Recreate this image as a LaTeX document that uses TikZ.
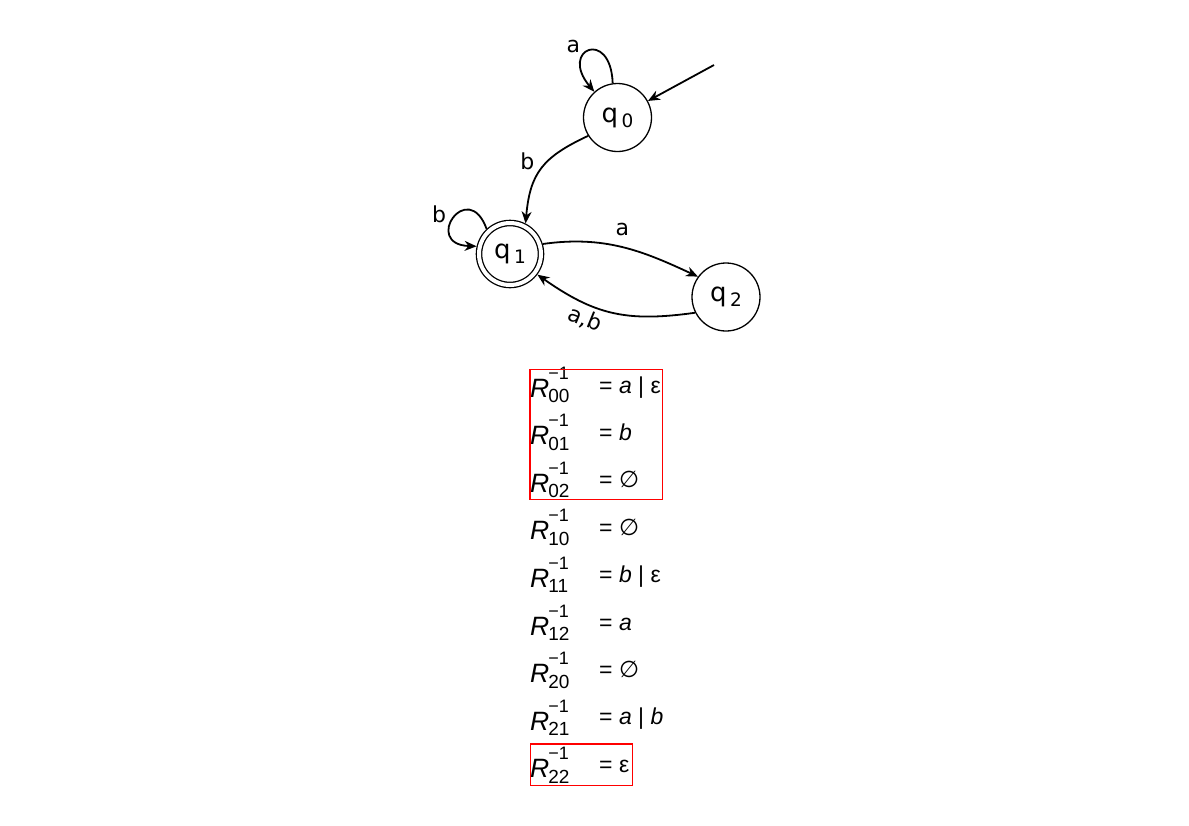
\documentclass[tikz,border=0pt]{standalone}
\usepackage{fontspec}
\setmainfont{Liberation Sans}
\newfontfamily\autfont{DejaVu Sans}
\usetikzlibrary{arrows.meta}

\newcommand{\statelabel}[1]{{\autfont\fontsize{26}{26}\selectfont q\kern3.5pt\raisebox{-5pt}{\fontsize{18.5}{18.5}\selectfont #1}}}
\newcommand{\Rinv}[1]{{\fontsize{26.5}{26.5}\selectfont\textit{R}}\kern-1pt\rlap{\raisebox{18pt}{\fontsize{18}{18}\selectfont −1}}\raisebox{-5.5pt}{\fontsize{19}{19}\selectfont #1}}
\newcommand{\emptyrhs}{{\autfont\itshape ∅}}

\begin{document}
\begin{tikzpicture}[x=1pt,y=1pt]
			\tikzstyle{state} = [
				circle, draw = black, line width = 1.3pt,
				inner sep = 0pt, minimum size = 68pt
			]
			\tikzstyle{accept} = [state, double, double distance = 4pt, minimum size = 62pt, outer sep = 3.3pt]
			\tikzstyle{line}=[->,draw=black,line width=1.8pt,>={Stealth[length=12pt,width=10pt]}]
			\tikzstyle{lbl} = [font=\autfont\fontsize{22}{22}\selectfont, inner sep = 0pt]
			\tikzstyle{lhs} = [anchor = base west, inner sep = 0pt]
			\tikzstyle{rhs} = [anchor = base west, inner sep = 0pt, font=\fontsize{23}{23}\selectfont]
			\tikzstyle{redbox} = [draw = red, line width = 1.5pt]
			\useasboundingbox (0,0) rectangle (1189,-825);
			% automaton
			\node[state] (q0) at (617.5,-117.5) {\statelabel{0}};
			\node[accept] (q1) at (510,-254) {\statelabel{1}};
			\node[state] (q2) at (726,-297) {\statelabel{2}};
			\coordinate (init) at (714,-65);
			\draw (init) to (q0) [line];
			\draw (q0.98) to[out=92,in=130,looseness=7] node[lbl, pos=0.5, left=9pt, yshift=4pt] {a} (q0.132) [line];
			\draw (q0.212) to[out=205,in=85,looseness=1.2] node[lbl, pos=0.4, left=13pt] {b} (q1.63) [line];
			\draw (q1.133) to[out=110,in=178,looseness=7] node[lbl, pos=0.45, left=10pt] {b} (q1.167) [line];
			\draw (q1.17) to[out=8,in=155] node[lbl, above=11pt] {a} (q2.144) [line];
			\draw (q2.207) to[out=188,in=-35,looseness=1.1] node[lbl, sloped, below=5pt, pos=0.65] {a,b} (q1.-37) [line];
			% inverse derivatives
			\node[lhs] (r00) at (530,-397) {\Rinv{00}};
			\node[rhs] (e00) at (599,-393) {= \textit{a} | ε};
			\node[lhs] (r01) at (530,-444.6) {\Rinv{01}};
			\node[rhs] (e01) at (599,-440.4) {= \textit{b}};
			\node[lhs] (r02) at (530,-492.2) {\Rinv{02}};
			\node[rhs] (e02) at (599,-487.8) {= \emptyrhs};
			\node[lhs] (r10) at (530,-539.8) {\Rinv{10}};
			\node[rhs] (e10) at (599,-535.2) {= \emptyrhs};
			\node[lhs] (r11) at (530,-587.4) {\Rinv{11}};
			\node[rhs] (e11) at (599,-582.6) {= \textit{b} | ε};
			\node[lhs] (r12) at (530,-635) {\Rinv{12}};
			\node[rhs] (e12) at (599,-630) {= \textit{a}};
			\node[lhs] (r20) at (530,-682.6) {\Rinv{20}};
			\node[rhs] (e20) at (599,-677.4) {= \emptyrhs};
			\node[lhs] (r21) at (530,-730.2) {\Rinv{21}};
			\node[rhs] (e21) at (599,-724.8) {= \textit{a} | \textit{b}};
			\node[lhs] (r22) at (530,-777.8) {\Rinv{22}};
			\node[rhs] (e22) at (599,-772.2) {= ε};
			\draw[redbox] (530,-369.5) rectangle (662.5,-499.5);
			\draw[redbox] (530.5,-744) rectangle (632.5,-785.5);
		\end{tikzpicture}
\end{document}
